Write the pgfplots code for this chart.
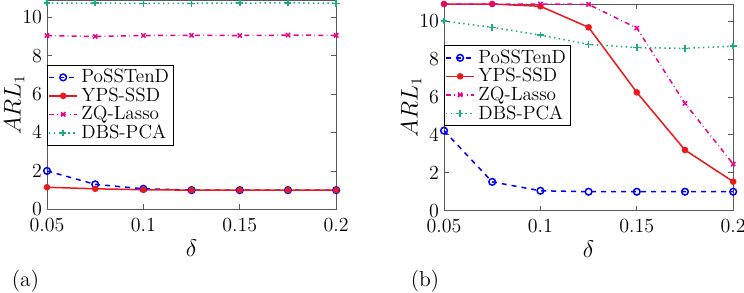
\documentclass[border=0pt]{standalone}
\usepackage{pgfplots}
\pgfplotsset{compat=1.18}
\definecolor{dbscol}{rgb}{0.1,0.68,0.5}
\definecolor{ypscol}{rgb}{0.92,0.1,0.1}
\newcommand{\tfont}{\fontsize{12}{14}\selectfont}
\newcommand{\lfont}{\fontsize{11.5}{13}\selectfont}
\pgfplotsset{
  myaxis/.style={
    scale only axis,
    width=173.5pt,
    xmin=0.05, xmax=0.2, ymin=0, ymax=10.9,
    xtick={0.05,0.1,0.15,0.2},
    xticklabels={0.05,0.1,0.15,0.2},
    ytick={0,2,4,6,8,10},
    axis line style={black!65},
    major tick length=3pt,
    every tick/.style={black!65},
    tick label style={font=\tfont},
    xticklabel style={yshift=-1.5pt},
    yticklabel style={xshift=0.5pt},
    xlabel={$\delta$},
    ylabel={$ARL_1$},
    label style={font=\fontsize{13.5}{16}\selectfont},
    xlabel style={yshift=2pt},
    ylabel style={yshift=-8pt},
    legend cell align=left,
    legend style={font=\lfont, draw=black, inner sep=0.5pt, row sep=-2.5pt,
      /tikz/every even column/.append style={column sep=1pt}},
    legend image code/.code={
      \draw[mark repeat=2,mark phase=2,#1] plot coordinates {(0cm,0cm) (0.3cm,0cm) (0.6cm,0cm)};},
    clip=false,
  },
  stposs/.style={blue, dashed, line width=0.9pt, mark=o, mark size=2pt, mark options={solid}},
  styps/.style={ypscol, line width=0.9pt, mark=*, mark size=1.5pt},
  stzq/.style={magenta, dash dot, line width=0.9pt, mark=x, mark size=1.8pt, mark options={solid}},
  stdbs/.style={dbscol, dotted, line width=0.9pt, mark=+, mark size=2pt, mark options={solid}},
}
\begin{document}
\begin{tikzpicture}
\useasboundingbox (0,0) rectangle (446.4pt,175.2pt);
\begin{axis}[myaxis, height=125.6pt, at={(28.2pt,49.6pt)}, anchor=south west,
  legend style={at={(0,0.69)}, anchor=north west}]
\addplot[stposs] coordinates {(0.05,2.0) (0.075,1.3) (0.1,1.07) (0.125,1.0) (0.15,1.0) (0.175,1.0) (0.2,1.0)};
\addplot[styps] coordinates {(0.05,1.15) (0.075,1.07) (0.1,1.02) (0.125,1.0) (0.15,1.0) (0.175,1.0) (0.2,1.0)};
\addplot[stzq] coordinates {(0.05,9.05) (0.075,9.0) (0.1,9.05) (0.125,9.06) (0.15,9.05) (0.175,9.07) (0.2,9.06)};
\addplot[stdbs] coordinates {(0.05,10.74) (0.075,10.74) (0.1,10.72) (0.125,10.73) (0.15,10.74) (0.175,10.75) (0.2,10.73)};
\legend{PoSSTenD,YPS-SSD,ZQ-Lasso,DBS-PCA}
\end{axis}
\begin{axis}[myaxis, height=124pt, at={(266.4pt,48.8pt)}, anchor=south west,
  legend style={at={(0,0.8)}, anchor=north west}]
\addplot[stposs] coordinates {(0.05,4.22) (0.075,1.52) (0.1,1.05) (0.125,1.0) (0.15,1.0) (0.175,1.0) (0.2,1.0)};
\addplot[styps] coordinates {(0.05,10.9) (0.075,10.9) (0.1,10.78) (0.125,9.67) (0.15,6.24) (0.175,3.2) (0.2,1.53)};
\addplot[stzq] coordinates {(0.05,10.9) (0.075,10.9) (0.1,10.9) (0.125,10.88) (0.15,9.63) (0.175,5.66) (0.2,2.46)};
\addplot[stdbs] coordinates {(0.05,10.0) (0.075,9.67) (0.1,9.26) (0.125,8.77) (0.15,8.6) (0.175,8.56) (0.2,8.68)};
\legend{PoSSTenD,YPS-SSD,ZQ-Lasso,DBS-PCA}
\end{axis}
\node[font=\fontsize{13}{15}\selectfont] at (15.3pt,6.4pt) {(a)};
\node[font=\fontsize{13}{15}\selectfont] at (255pt,6.4pt) {(b)};
\end{tikzpicture}
\end{document}
